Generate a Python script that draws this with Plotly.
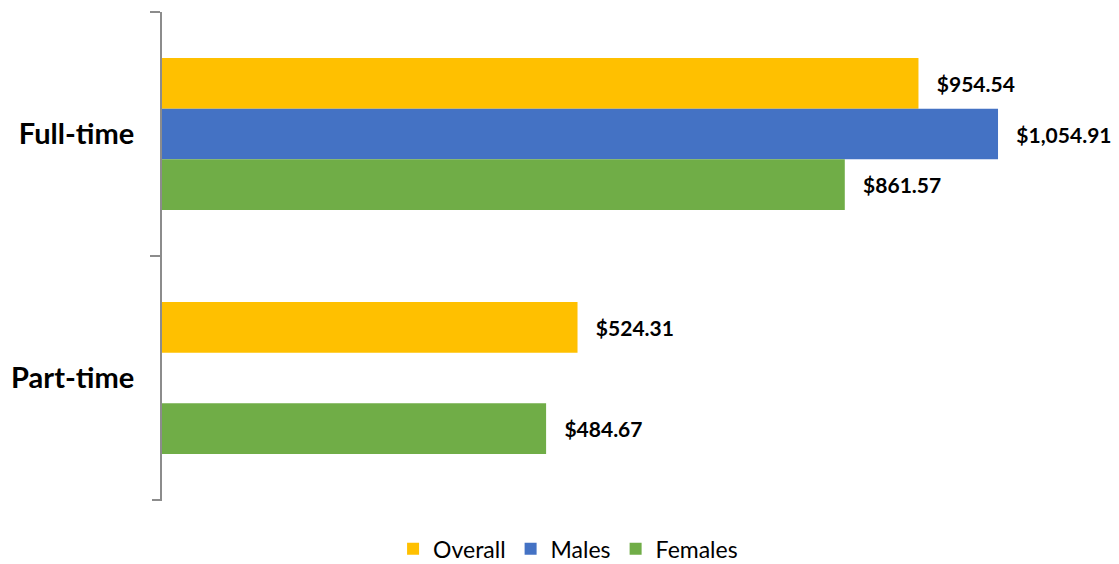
import plotly.graph_objects as go

categorias = ["Full-time", "Part-time"]
series = ["Overall", "Males", "Females"]
overall = [954.54, 524.31]
males = [1054.91, None]
females = [861.57, 484.67]
cores = ["#FFC000", "#4472C4", "#70AD47"]


def rotulo(v):
    return "" if v is None else "   ${:,.2f}".format(v)


fig = go.Figure()
for nome, valores, cor in zip(series, [overall, males, females], cores):
    fig.add_trace(go.Bar(
        name=nome,
        y=categorias,
        x=valores,
        orientation="h",
        marker=dict(color=cor, line=dict(width=0)),
        text=[rotulo(v) for v in valores],
        textposition="outside",
        textfont=dict(size=21, color="black", family="Lato", weight="bold"),
        cliponaxis=False,
    ))

# marca inferior do eixo (o plotly nao desenha a ultima fronteira)
fig.add_shape(type="line", xref="paper", yref="paper",
              x0=-10 / 951, x1=0, y0=0, y1=0,
              line=dict(color="#8c8c8c", width=2))

# a pagina tem 8px de margem no body, por isso a figura fica 8px menor
fig.update_layout(
    barmode="group",
    bargap=0.377,
    bargroupgap=0,
    width=1111,
    height=556,
    margin=dict(l=154, r=6, t=4, b=64, autoexpand=False),
    plot_bgcolor="white",
    paper_bgcolor="white",
    font=dict(family="Lato", color="black"),
    legend=dict(
        orientation="h",
        x=0.427, xanchor="center",
        y=-0.10, yanchor="middle",
        font=dict(size=23),
        tracegroupgap=0,
    ),
)
fig.update_xaxes(range=[0, 1200], visible=False, showgrid=False, automargin=False)
fig.update_yaxes(
    autorange="reversed", automargin=False,
    showline=True, linecolor="#8c8c8c", linewidth=2,
    ticks="outside", tickson="boundaries", ticklen=10, tickcolor="#8c8c8c", tickwidth=2,
    tickfont=dict(size=29, color="black", family="Lato", weight="bold"),
    ticklabelstandoff=20,
    showgrid=False,
)

fig.write_html("out.html")
